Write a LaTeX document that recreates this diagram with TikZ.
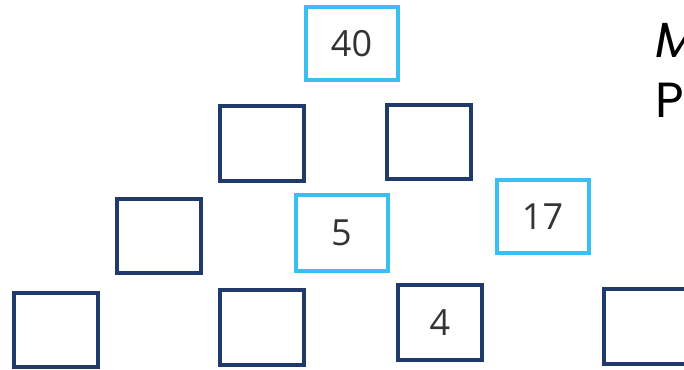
\documentclass[tikz,border=0pt]{standalone}
\usepackage{fontspec}
\setmainfont{Open Sans}
\newfontfamily\headfont{Poppins}
\definecolor{navy}{HTML}{1F3A6B}
\definecolor{sky}{HTML}{38C1F0}

\begin{document}
\begin{tikzpicture}[x=0.75pt, y=-0.75pt,
  cell/.style={draw=navy, line width=3pt, minimum width=63pt, minimum height=56pt,
    inner sep=0pt, text=black!80, font=\fontsize{27}{30}\selectfont},
  given/.style={cell, draw=sky, minimum width=69pt, minimum height=55pt},
  head/.style={anchor=west, inner sep=0pt, font=\headfont\fontsize{37}{40}\selectfont}]
  \useasboundingbox (0,0) rectangle (684,369);
  \node[given] (top) at (351.5,43.5) {40};
  \node[cell] (midl) at (261.5,143.5) {};
  \node[cell] (midr) at (429,142) {};
  \node[cell] (lowl) at (159,236) {};
  \node[given, minimum height=57pt] (lowm) at (341.5,233) {5};
  \node[given] (lowr) at (542.5,216.5) {17};
  \node[cell] (basea) at (56,330) {};
  \node[cell] (baseb) at (261.5,327.5) {};
  \node[cell] (basec) at (440,322.5) {4};
  \node[cell] (based) at (646,326.5) {};
  \node[head, font=\headfont\itshape\fontsize{37}{40}\selectfont] (m) at (655,40) {M};
  \node[head] (p) at (655,100) {P};
\end{tikzpicture}
\end{document}
